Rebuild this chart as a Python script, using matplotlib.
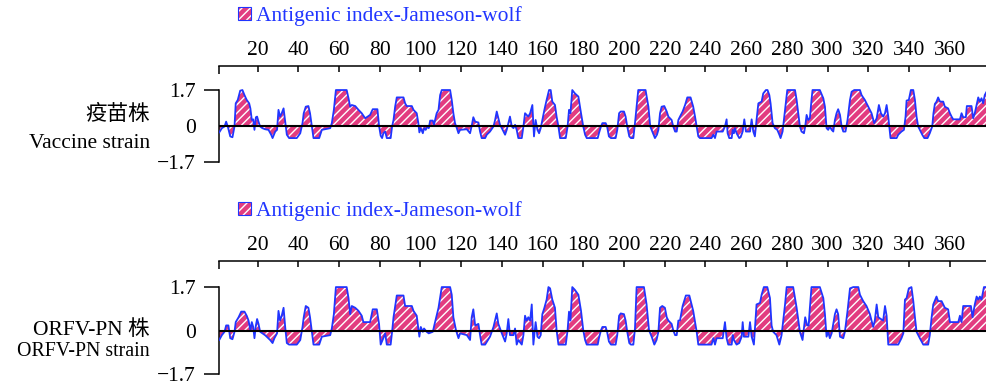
import matplotlib
matplotlib.use('Agg')
import matplotlib.pyplot as plt
from matplotlib.patches import Patch
from matplotlib.legend_handler import HandlerTuple

plt.rcParams['font.family'] = ['Liberation Serif', 'Noto Sans CJK SC']
plt.rcParams['hatch.linewidth'] = 1.0

# residue positions and Jameson-Wolf antigenic index
vac_pos = [1.2, 2.5, 3.8, 4.6, 5.4, 6.6, 7.7, 8.7, 9.3, 10.3, 11.5, 12.6, 13.6, 14.7, 15.9, 16.5,
           17.2, 17.9, 18.5, 19.2, 19.8, 20.5, 21.3, 22.4, 23.7, 25.4, 26.7, 27.4, 28.7, 29.6, 30.3,
           31.1, 31.9, 32.8, 33.6, 34.4, 35.5, 39.3, 41.0, 42.1, 42.7, 43.7, 45.0, 45.8, 46.7, 47.5,
           50.3, 51.6, 55.7, 56.5, 57.5, 58.5, 63.8, 64.7, 65.5, 66.3, 68.0, 69.6, 71.2, 72.9, 75.3,
           76.6, 78.9, 79.7, 80.5, 81.2, 81.8, 82.7, 83.5, 85.4, 86.1, 86.8, 87.6, 88.4, 91.7, 92.5,
           93.3, 95.8, 96.6, 98.2, 99.0, 99.5, 100.2, 101.2, 101.8, 102.6, 103.5, 104.1, 104.8, 106.1,
           106.7, 107.4, 108.0, 108.9, 109.7, 110.5, 114.6, 115.4, 116.2, 117.0, 117.9, 118.7, 119.5,
           122.8, 124.4, 125.2, 126.0, 126.9, 128.5, 129.3, 130.1, 131.8, 132.6, 134.2, 135.9, 136.7,
           137.5, 138.3, 139.1, 140.0, 141.6, 142.4, 143.2, 144.0, 144.9, 145.7, 146.5, 147.3, 148.1,
           149.8, 150.6, 151.4, 153.0, 153.9, 155.0, 155.8, 156.6, 157.5, 158.3, 159.1, 159.9, 160.9,
           162.0, 163.2, 164.0, 164.8, 166.1, 166.9, 167.8, 168.6, 171.4, 172.3, 173.0, 173.7, 174.6,
           175.9, 177.6, 178.9, 180.0, 180.9, 181.7, 187.1, 187.7, 188.7, 189.4, 191.0, 191.7, 192.6,
           193.6, 195.9, 196.7, 197.6, 198.4, 200.0, 200.8, 201.6, 202.6, 203.4, 204.6, 205.4, 207.0,
           210.6, 212.0, 212.9, 213.9, 215.2, 216.2, 216.9, 217.7, 218.5, 219.8, 221.0, 221.8, 223.4,
           224.2, 225.1, 225.9, 226.7, 227.5, 228.8, 230.0, 231.1, 232.7, 234.0, 234.9, 235.7, 236.5,
           237.3, 243.0, 243.9, 244.7, 245.5, 248.5, 249.6, 250.4, 250.9, 251.7, 252.9, 253.4, 254.0,
           254.5, 255.3, 256.6, 257.3, 258.3, 259.1, 259.9, 261.9, 262.7, 263.5, 264.3, 265.1, 266.0,
           267.6, 268.4, 269.7, 270.5, 271.4, 272.0, 273.0, 274.1, 275.3, 276.3, 276.9, 277.9, 279.1,
           280.2, 284.0, 284.8, 286.4, 287.2, 288.4, 289.0, 289.7, 290.5, 291.3, 292.1, 292.6, 296.2,
           297.9, 298.7, 299.5, 300.3, 301.1, 302.0, 302.8, 303.6, 304.4, 305.2, 306.1, 306.9, 307.7,
           308.8, 309.8, 311.0, 311.8, 313.1, 315.9, 316.7, 318.3, 320.0, 321.6, 322.9, 324.1, 325.2,
           326.2, 327.3, 328.2, 329.0, 329.8, 330.3, 330.9, 333.9, 334.7, 336.3, 337.5, 338.3, 338.8,
           339.9, 340.9, 342.1, 342.9, 343.7, 344.5, 345.3, 346.5, 347.5, 349.1, 350.2, 351.4, 352.0,
           352.7, 353.5, 354.3, 355.2, 356.8, 357.6, 359.2, 360.1, 360.9, 361.7, 365.0, 365.8, 366.6,
           367.9, 368.4, 370.7, 371.5, 372.3, 373.2, 374.0, 374.8, 375.6, 376.4, 377.2, 378.1]
vac_val = [-0.31, -0.11, -0.03, 0.2, -0.03, -0.5, -0.54, -0.03, 1.07, 1.23, 1.67, 1.7, 1.46, 1.23, 1.07, 0.83,
           0.28, 0.31, -0.19, 0.41, 0.44, 0.2, -0.03, -0.11, -0.16, -0.19, -0.42, -0.58, -0.27, -0.19, 0.76,
           0.44, 0.6, 0.83, 0.2, -0.42, -0.58, -0.58, -0.35, 0.13, 0.6, 0.91, 0.94, 0.6, -0.03, -0.58,
           -0.58, -0.19, -0.11, 0.13, 0.76, 1.7, 1.7, 1.31, 0.91, 0.99, 0.94, 0.76, 0.6, 0.36, 0.52,
           0.79, 0.79, 0.0, -0.47, -0.58, -0.35, -0.27, -0.58, -0.58, -0.03, 0.28, 0.91, 1.35, 1.35, 1.07,
           0.94, 0.94, 0.76, 0.6, 0.13, -0.31, -0.11, -0.35, -0.11, -0.19, -0.03, -0.11, 0.25, 0.25,
           0.05, 0.36, 0.6, 0.76, 1.46, 1.7, 1.7, 1.23, 0.6, 0.13, -0.11, -0.35, -0.19,
           -0.16, -0.35, 0.0, 0.41, 0.2, 0.16, -0.27, -0.58, -0.58, -0.42, -0.27, -0.03, 0.28,
           0.68, 0.36, 0.05, -0.11, -0.42, -0.19, 0.13, 0.44, -0.03, -0.11, 0.05, -0.19, -0.58,
           -0.58, -0.03, 0.6, 0.44, 0.6, 0.99, -0.5, 0.28, -0.19, -0.35, -0.11, 0.28, 0.76,
           1.23, 1.7, 1.7, 1.15, 0.99, 0.44, -0.03, -0.58, -0.58, -0.03, 0.76, 0.6, 1.7,
           1.54, 1.39, 0.6, -0.03, -0.42, -0.58, -0.58, -0.35, -0.03, 0.13, 0.13, -0.03, -0.5,
           -0.58, -0.58, -0.19, 0.6, 0.68, 0.68, 0.44, -0.03, -0.5, -0.58, -0.58, 0.13, 1.7,
           1.7, 0.91, -0.03, -0.27, -0.58, -0.42, -0.19, 0.6, 0.91, 0.94, 0.68, 0.44, 0.28,
           -0.03, -0.27, -0.27, 0.28, 0.44, 0.68, 0.99, 1.35, 1.35, 0.91, 0.44, -0.03, -0.5,
           -0.58, -0.58, -0.42, -0.58, -0.27, -0.27, -0.03, 0.31, -0.35, -0.58, -0.58, -0.19, -0.35,
           -0.11, -0.35, -0.58, -0.54, -0.27, 0.31, -0.27, -0.27, 0.31, -0.27, -0.5, 0.28, 1.07,
           1.15, 1.54, 1.7, 1.7, 1.46, 1.07, 0.13, -0.11, -0.19, -0.42, -0.58, -0.27, 0.76,
           1.7, 1.7, 1.23, -0.03, -0.27, -0.35, -0.03, 0.52, 0.28, 0.36, 1.23, 1.7, 1.7,
           1.31, 0.91, -0.11, -0.19, -0.03, -0.19, -0.27, 0.28, 0.6, 0.79, 0.52, -0.03, -0.27,
           -0.27, 0.28, 1.23, 1.62, 1.7, 1.7, 1.46, 1.23, 0.91, 0.6, 0.13, 0.36, 0.99,
           0.6, 0.44, 0.6, 0.99, 0.44, -0.03, -0.58, -0.58, -0.42, -0.27, -0.19, 0.44, 1.2,
           1.23, 1.7, 1.7, 1.23, 0.44, -0.03, -0.19, -0.42, -0.58, -0.58, -0.35, -0.03, 0.6,
           1.04, 1.15, 1.35, 1.15, 1.15, 0.91, 0.83, 0.6, 0.44, 0.31, 0.31, 0.6, 0.41,
           0.41, 0.94, 0.94, 0.36, 0.6, 0.99, 1.35, 1.15, 1.31, 1.07, 1.46, 1.62]

pn_pos = [1.2, 2.5, 3.8, 4.6, 5.7, 6.6, 7.7, 8.7, 9.3, 10.7, 12.0, 13.6, 14.7, 15.6, 16.5, 17.2,
          17.9, 18.5, 19.2, 19.8, 20.5, 21.3, 23.7, 26.2, 27.4, 28.3, 29.6, 30.3, 31.1, 31.9, 32.8,
          33.6, 34.4, 35.5, 39.3, 41.0, 42.1, 42.7, 43.7, 45.0, 45.8, 46.7, 47.5, 50.3, 51.6, 55.7,
          56.5, 57.5, 58.5, 63.8, 64.7, 65.5, 66.3, 68.0, 69.6, 71.2, 72.0, 75.3, 76.6, 78.6, 79.7,
          80.5, 81.8, 82.7, 83.5, 85.4, 86.1, 86.8, 88.4, 91.7, 92.5, 95.8, 96.6, 98.2, 99.5, 100.2,
          101.2, 101.8, 103.1, 104.1, 106.1, 107.2, 108.9, 110.5, 114.6, 115.4, 116.2, 117.5, 118.7,
          119.5, 122.8, 124.4, 125.2, 126.0, 126.9, 128.5, 129.3, 130.1, 131.8, 134.2, 135.9, 137.5,
          138.3, 140.0, 141.6, 142.4, 143.2, 144.0, 145.7, 146.5, 147.3, 148.1, 149.8, 150.6, 151.4,
          152.2, 153.0, 153.9, 154.7, 155.5, 156.6, 157.5, 158.3, 159.1, 159.9, 160.9, 162.0, 162.9,
          163.7, 164.8, 166.1, 166.9, 167.8, 171.4, 172.3, 173.0, 173.7, 174.6, 175.9, 177.6, 178.9,
          180.0, 180.9, 181.7, 187.1, 187.7, 188.7, 189.4, 191.0, 191.7, 192.6, 193.6, 195.9, 196.7,
          197.6, 198.4, 200.0, 200.8, 201.6, 202.6, 203.4, 204.6, 205.4, 206.2, 209.8, 211.1, 212.3,
          213.6, 214.9, 216.0, 216.9, 217.7, 218.8, 220.1, 221.0, 221.8, 223.4, 224.2, 225.1, 225.9,
          226.7, 227.5, 228.8, 230.4, 232.1, 234.0, 235.7, 236.5, 243.0, 243.9, 244.7, 245.5, 248.5,
          249.6, 250.4, 251.2, 252.9, 253.4, 254.0, 255.3, 256.6, 257.8, 258.3, 258.9, 261.1, 261.9,
          262.7, 263.8, 265.1, 266.8, 267.6, 268.7, 270.4, 271.7, 272.5, 273.3, 274.9, 276.3, 277.4,
          279.1, 279.9, 283.1, 284.8, 286.4, 287.7, 289.0, 290.0, 290.7, 291.3, 292.1, 296.2, 297.9,
          298.7, 299.5, 300.3, 301.1, 302.0, 303.1, 303.6, 304.4, 305.2, 306.1, 307.7, 308.5, 309.8,
          311.0, 312.6, 315.1, 315.9, 317.5, 319.1, 320.8, 322.4, 323.2, 324.1, 324.9, 327.3, 328.2,
          329.0, 329.8, 334.7, 336.3, 337.2, 338.0, 338.8, 339.9, 341.2, 342.1, 342.9, 343.7, 345.3,
          347.0, 349.4, 350.2, 351.1, 351.9, 353.5, 354.3, 356.0, 357.6, 359.2, 360.1, 364.2, 365.0,
          365.8, 366.6, 370.4, 371.2, 372.3, 373.2, 374.0, 374.8, 375.6, 376.8, 378.1]
pn_val = [-0.37, -0.18, -0.05, 0.2, 0.2, -0.3, -0.34, -0.05, 0.33, 0.52, 0.74, 0.74, 0.58, 0.39, 0.01, 0.33,
          0.14, -0.3, 0.2, 0.45, 0.26, -0.05, -0.18, -0.37, -0.49, -0.3, -0.11, 0.77, 0.39, 0.58, 0.89,
          0.14, -0.49, -0.55, -0.55, -0.37, 0.14, 0.52, 0.96, 0.89, 0.52, -0.05, -0.55, -0.55, -0.24, -0.18,
          0.08, 0.64, 1.7, 1.7, 1.27, 0.64, 0.96, 0.89, 0.77, 0.58, 0.33, 0.33, 0.83, 0.83, 0.26,
          -0.55, -0.3, -0.11, -0.55, -0.55, -0.05, 0.52, 1.37, 1.37, 0.96, 0.96, 0.77, 0.58, -0.24, 0.14,
          -0.05, 0.08, -0.05, -0.11, -0.05, 0.33, 0.89, 1.7, 1.7, 1.4, 0.52, 0.01, -0.3,
          -0.11, -0.18, -0.37, 0.52, 0.83, 0.2, 0.26, -0.18, -0.55, -0.55, -0.24, 0.14, 0.67,
          0.26, -0.11, -0.43, -0.11, 0.45, -0.18, -0.18, 0.08, -0.55, -0.37, -0.55, -0.18, 0.58,
          0.39, 0.52, 0.39, 1.02, -0.55, 0.33, -0.24, -0.3, -0.18, 0.64, 0.89, 1.21, 1.7,
          1.65, 1.21, 0.89, 0.01, -0.55, -0.55, 0.01, 0.74, 0.39, 1.7, 1.59, 1.4, 0.77,
          0.01, -0.37, -0.55, -0.55, -0.3, 0.01, 0.14, 0.14, -0.05, -0.43, -0.55, -0.55, -0.18,
          0.58, 0.67, 0.64, 0.39, -0.05, -0.49, -0.55, -0.55, 0.08, 1.7, 1.7, 1.02, 0.01,
          -0.24, -0.55, -0.37, -0.05, 0.89, 0.96, 0.89, 0.52, 0.39, 0.26, 0.01, -0.18, -0.18,
          0.39, 0.39, 0.96, 1.37, 1.37, 0.77, -0.05, -0.55, -0.55, -0.3, -0.55, -0.3, -0.3,
          0.33, -0.3, -0.55, -0.55, -0.18, -0.37, -0.55, -0.49, -0.24, 0.33, -0.24, -0.24, 0.33,
          -0.24, -0.55, 1.02, 1.08, 1.4, 1.7, 1.7, 1.27, 0.2, -0.05, -0.18, -0.55, -0.18,
          1.02, 1.7, 1.7, 0.89, -0.05, -0.37, 0.52, 0.2, 0.2, 0.89, 1.7, 1.7, 1.27,
          0.64, -0.24, -0.05, -0.3, -0.11, 0.39, 0.64, 0.83, 0.64, -0.24, -0.3, -0.05, 0.77,
          1.65, 1.7, 1.7, 1.4, 1.15, 0.96, 0.64, 0.14, 0.39, 1.02, 0.52, 0.39, 0.96,
          0.58, -0.55, -0.55, -0.3, -0.11, 1.21, 1.27, 1.65, 1.7, 1.15, 0.52, -0.05, -0.3,
          -0.55, -0.55, -0.18, 0.52, 1.02, 1.33, 1.15, 1.15, 0.89, 0.83, 0.33, 0.33, 0.58,
          0.33, 0.96, 0.96, 0.52, 1.02, 1.33, 1.21, 1.33, 1.21, 1.7, 1.7]

top_ticks = [20, 40, 60, 80, 100, 120, 140, 160, 180, 200, 220, 240, 260, 280, 300, 320, 340, 360]
y_ticks = [-1.7, 0, 1.7]
y_ticklabels = ['\u22121.7', '0', '1.7']
legend_label = 'Antigenic index-Jameson-wolf'

fill_color = '#e23c80'
line_color = '#2035ff'
fs = 15.5


def draw_panel(ax, pos, val, ytop):
    ax.fill_between(pos, val, 0, facecolor=fill_color, edgecolor='white', hatch='////',
                    linewidth=0, interpolate=True, zorder=2)
    ax.plot(pos, val, color=line_color, lw=1.3, zorder=3)
    ax.axhline(0, color='black', lw=1.5, zorder=4)

    ax.set_xlim(0.9, 378.3)
    ax.set_ylim(-1.7, ytop)

    for side in ['right', 'bottom']:
        ax.spines[side].set_visible(False)
    ax.spines['left'].set_bounds(-1.7, 1.7)
    ax.spines['left'].set_linewidth(1.1)
    ax.spines['top'].set_linewidth(1.1)

    ax.xaxis.tick_top()
    ax.set_xticks(top_ticks)
    ax.set_xticks([0.9], minor=True)
    ax.tick_params(axis='x', which='major', direction='in', length=4, width=1.1, pad=4, labelsize=fs)
    ax.tick_params(axis='x', which='minor', direction='in', length=6, width=1.1)

    ax.set_yticks(y_ticks)
    ax.set_yticklabels(y_ticklabels)
    ax.tick_params(axis='y', direction='out', length=10.5, width=1.1, pad=6, labelsize=fs)
    ax.yaxis.get_major_ticks()[1].tick1line.set_visible(False)

    handle = (Patch(facecolor=fill_color, edgecolor='white', hatch='////', linewidth=0),
              Patch(facecolor='none', edgecolor=line_color, linewidth=0.8))
    ax.legend([handle], [legend_label], handler_map={tuple: HandlerTuple(ndivide=1, pad=0)},
              loc='center left', bbox_to_anchor=(0.0, 1.0), frameon=False, fontsize=fs,
              labelcolor=line_color, handlelength=0.6, handleheight=0.6, handletextpad=0.25,
              borderpad=0, borderaxespad=0)


fig = plt.figure(figsize=(9.87, 3.85), dpi=100)

ax1 = fig.add_axes([0.2215, 1 - 161.7 / 385, 1 - 0.2215, (161.7 - 66) / 385])
draw_panel(ax1, vac_pos, vac_val, 2.84)
ax1.get_legend().set_bbox_to_anchor((238 / 987, 1 - 16 / 385), transform=fig.transFigure)

ax2 = fig.add_axes([0.2215, 1 - 374 / 385, 1 - 0.2215, (374 - 261) / 385])
draw_panel(ax2, pn_pos, pn_val, 2.72)
ax2.get_legend().set_bbox_to_anchor((238 / 987, 1 - 211 / 385), transform=fig.transFigure)

fig.text(150 / 987, 1 - 115 / 385, '疫苗株', ha='right', va='center', fontsize=fs)
fig.text(150 / 987, 1 - 143 / 385, 'Vaccine strain', ha='right', va='center', fontsize=fs)
fig.text(150 / 987, 1 - 330 / 385, 'ORFV-PN 株', ha='right', va='center', fontsize=fs)
fig.text(150 / 987, 1 - 352 / 385, 'ORFV-PN strain', ha='right', va='center', fontsize=14.3)

fig.savefig('out.png', dpi=100)
